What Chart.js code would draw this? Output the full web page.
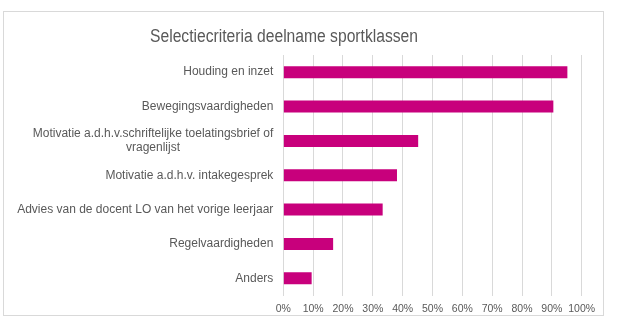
<!DOCTYPE html>
<html>
<head>
<meta charset="utf-8">
<script src="https://cdn.jsdelivr.net/npm/chart.js@4.4.1/dist/chart.umd.min.js"></script>
<style>
  html, body { margin: 0; padding: 0; background: #fff; }
  #wrap { width: 617px; height: 326px; position: relative; }
</style>
</head>
<body>
<div id="wrap"><canvas id="chart"></canvas></div>
<script>
const chartTitle = 'Selectiecriteria deelname sportklassen'
const categories = [
  'Houding en inzet',
  'Bewegingsvaardigheden',
  ['Motivatie a.d.h.v.schriftelijke toelatingsbrief of', 'vragenlijst'],
  'Motivatie a.d.h.v. intakegesprek',
  'Advies van de docent LO van het vorige leerjaar',
  'Regelvaardigheden',
  'Anders'
]
const percentages = [95.2, 90.5, 45.2, 38.1, 33.3, 16.7, 9.5]
const xTicks = [0, 10, 20, 30, 40, 50, 60, 70, 80, 90, 100]

const textColor = '#595959'
const lineColor = '#d9d9d9'
const font = '"Liberation Sans", Arial, sans-serif'

// frame, title and centred multi-line category labels
const decorations = {
  id: 'decorations',
  beforeDraw(chart) {
    const ctx = chart.ctx
    ctx.save()
    ctx.strokeStyle = lineColor
    ctx.lineWidth = 1
    ctx.strokeRect(3.5, 11.5, 600, 304)
    ctx.restore()
  },
  afterDraw(chart) {
    const ctx = chart.ctx
    const y = chart.scales.y
    ctx.save()
    ctx.fillStyle = textColor
    ctx.textBaseline = 'middle'

    ctx.font = '18px ' + font
    ctx.textAlign = 'center'
    const tw = ctx.measureText(chartTitle).width
    ctx.translate(284, 37)
    ctx.scale(268 / tw, 1)
    ctx.fillText(chartTitle, 0, 0)
    ctx.setTransform(1, 0, 0, 1, 0, 0)

    ctx.font = '12px ' + font
    const right = chart.chartArea.left - 10
    categories.forEach((label, i) => {
      const lines = Array.isArray(label) ? label : [label]
      const widest = Math.max(...lines.map(l => ctx.measureText(l).width))
      const cy = y.getPixelForValue(i)
      const lh = 14
      lines.forEach((line, j) => {
        const ly = cy + (j - (lines.length - 1) / 2) * lh
        ctx.fillText(line, right - widest / 2, ly)
      })
    })
    ctx.restore()
  }
}

new Chart(document.getElementById('chart'), {
  type: 'bar',
  data: {
    labels: categories,
    datasets: [{
      data: percentages,
      backgroundColor: '#c8007c',
      barPercentage: 0.35,
      categoryPercentage: 1
    }]
  },
  options: {
    indexAxis: 'y',
    responsive: true,
    maintainAspectRatio: false,
    animation: false,
    layout: { padding: { left: 0, right: 35.3, top: 55, bottom: 10.5 } },
    plugins: {
      legend: { display: false },
      tooltip: { enabled: false }
    },
    scales: {
      x: {
        min: 0,
        max: 100,
        afterFit: scale => { scale.height = 20 },
        afterBuildTicks: scale => { scale.ticks = xTicks.map(v => ({ value: v })) },
        grid: { color: lineColor, drawTicks: false },
        border: { display: false },
        ticks: {
          padding: 7,
          maxRotation: 0,
          minRotation: 0,
          autoSkip: false,
          color: textColor,
          font: { family: font, size: 10.5 },
          callback: v => v + '%'
        }
      },
      y: {
        afterFit: scale => { scale.width = 283.3 },
        grid: { display: false },
        border: { display: false },
        ticks: { display: false }
      }
    }
  },
  plugins: [decorations]
})
</script>
</body>
</html>
